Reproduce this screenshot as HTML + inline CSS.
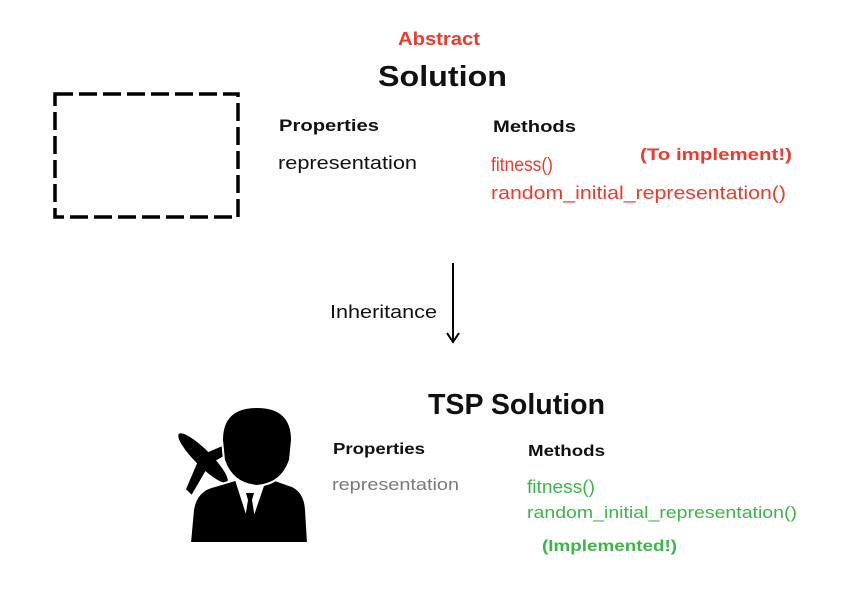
<!DOCTYPE html>
<html><head><style>html,body{margin:0;padding:0;background:#fff}svg{display:block}</style></head>
<body>
<svg width="850" height="604" viewBox="0 0 850 604" xmlns="http://www.w3.org/2000/svg" font-family="Liberation Sans, sans-serif">
<rect x="55" y="94" width="183" height="123" fill="none" stroke="#000" stroke-width="3.5" stroke-dasharray="18 6"/>
<g font-weight="bold">
<text x="398" y="45" font-size="18" fill="#ee3a2c" textLength="82" lengthAdjust="spacingAndGlyphs">Abstract</text>
<text x="378" y="86" font-size="29" fill="#111" textLength="129" lengthAdjust="spacingAndGlyphs">Solution</text>
<text x="279" y="131" font-size="17" fill="#111" textLength="100" lengthAdjust="spacingAndGlyphs">Properties</text>
<text x="493" y="132" font-size="17" fill="#111" textLength="83" lengthAdjust="spacingAndGlyphs">Methods</text>
<text x="640" y="160" font-size="17" fill="#ee3a2c" textLength="152" lengthAdjust="spacingAndGlyphs">(To implement!)</text>
<text x="428" y="414" font-size="29" fill="#111" textLength="177" lengthAdjust="spacingAndGlyphs">TSP Solution</text>
<text x="333" y="454" font-size="16" fill="#111" textLength="92" lengthAdjust="spacingAndGlyphs">Properties</text>
<text x="528" y="456" font-size="16" fill="#111" textLength="77" lengthAdjust="spacingAndGlyphs">Methods</text>
<text x="542" y="551" font-size="16" fill="#3cb54a" textLength="135" lengthAdjust="spacingAndGlyphs">(Implemented!)</text>
</g>
<text x="278" y="169" font-size="18" fill="#111" textLength="139" lengthAdjust="spacingAndGlyphs">representation</text>
<text x="491" y="171" font-size="19" fill="#ee3a2c" textLength="62" lengthAdjust="spacingAndGlyphs">fitness()</text>
<text x="491" y="199" font-size="18" fill="#ee3a2c" textLength="295" lengthAdjust="spacingAndGlyphs">random_initial_representation()</text>
<text x="330" y="318" font-size="18" fill="#111" textLength="107" lengthAdjust="spacingAndGlyphs">Inheritance</text>
<text x="332" y="490" font-size="17" fill="#7a7a7a" textLength="127" lengthAdjust="spacingAndGlyphs">representation</text>
<text x="527" y="493" font-size="18" fill="#3cb54a" textLength="68" lengthAdjust="spacingAndGlyphs">fitness()</text>
<text x="527" y="518" font-size="17" fill="#3cb54a" textLength="270" lengthAdjust="spacingAndGlyphs">random_initial_representation()</text>
<line x1="453" y1="263" x2="453" y2="340" stroke="#000" stroke-width="2"/>
<path d="M447 333 L453 342 L459 333" fill="none" stroke="#000" stroke-width="2"/>
<!-- plane -->
<g transform="translate(203,458) rotate(-45)">
<ellipse cx="0" cy="0" rx="8" ry="34" fill="#000"/>
<path d="M-4 -2 L-34 10 L-34 18 L-4 10 Z M4 -2 L34 10 L34 18 L4 10 Z" fill="#000"/>
</g>
<!-- person -->
<path d="M190 543 L193 510 Q196 490 215 486 L235 480 L275 480 L292 486 Q305 492 306 510 L308 543 Z" fill="#000" stroke="#fff" stroke-width="2"/>
<path d="M235 480 L250 527 L266 480 Z" fill="#fff"/>
<path d="M246 493 L254 493 L252 500 L256 525 L250 535 L244 525 L248 500 Z" fill="#000"/>
<path d="M222 440 Q222 407 257 407 Q292 407 292 440 L290 460 Q282 484 257 486 Q232 484 224 460 Z" fill="#000" stroke="#fff" stroke-width="2"/>
</svg>
</body></html>
